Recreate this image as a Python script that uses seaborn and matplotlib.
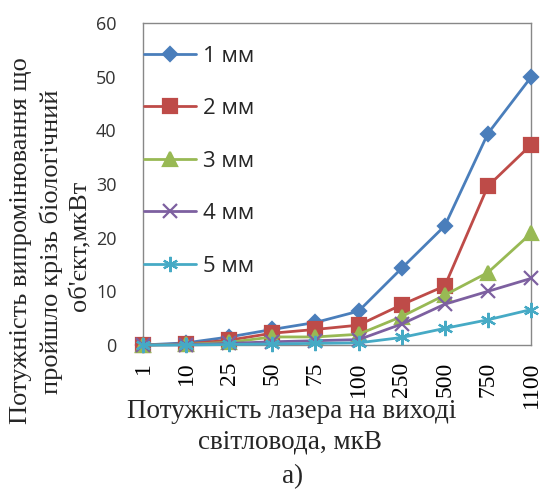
import matplotlib
matplotlib.use("Agg")
import matplotlib.pyplot as plt
import seaborn as sns
import pandas as pd

x_labels = ['1', '10', '25', '50', '75', '100', '250', '500', '750', '1100']
mm1 = [0, 0.4, 1.5, 2.9, 4.2, 6.3, 14.3, 22.2, 39.4, 49.9]
mm2 = [0, 0.2, 0.9, 2.2, 2.9, 3.7, 7.5, 11.0, 29.6, 37.3]
mm3 = [0, 0.1, 0.5, 1.5, 1.5, 2.0, 5.3, 9.3, 13.5, 20.8]
mm4 = [0, 0.05, 0.3, 0.6, 0.8, 1.0, 3.9, 7.6, 10.0, 12.4]
mm5 = [0, 0.0, 0.1, 0.2, 0.3, 0.4, 1.4, 3.1, 4.7, 6.6]
series_names = ['1 мм', '2 мм', '3 мм', '4 мм', '5 мм']

sns.set_style('white')
plt.rcParams['font.family'] = ['Open Sans', 'DejaVu Sans']

colors = ['#4A7EBB', '#BE4B48', '#98B954', '#7D60A0', '#46AAC5']
markers = ['D', 's', '^', 'x', (6, 2, 0)]
msizes = [7.5, 10.5, 10, 10, 11]

fig = plt.figure(figsize=(5.42, 4.91), dpi=100)
ax = fig.add_axes([143 / 542, 1 - 345 / 491, 388 / 542, 322 / 491])

positions = list(range(len(x_labels)))
for name, vals, c, m, ms in zip(series_names, [mm1, mm2, mm3, mm4, mm5], colors, markers, msizes):
    df = pd.DataFrame({'pos': positions, 'val': vals})
    sns.lineplot(data=df, x='pos', y='val', ax=ax, color=c, marker=m, markersize=ms,
                 markeredgecolor=c, markerfacecolor=c, markeredgewidth=1.6,
                 linewidth=2.0, label=name, clip_on=False, zorder=3)

ax.set_xlim(0, 9)
ax.set_ylim(0, 60)
ax.set_yticks(range(0, 61, 10))
ax.set_xticks(positions)
ax.set_xticklabels(x_labels, rotation=90, family='Liberation Serif', fontsize=17)
ax.tick_params(axis='x', length=0, pad=12, colors='black')
ax.tick_params(axis='y', length=0, pad=19, labelsize=13, colors='#333333')
for lbl in ax.get_yticklabels():
    lbl.set_family('Open Sans')
ax.set_xlabel('')
ax.set_ylabel('')
for sp in ax.spines.values():
    sp.set_color('#888888')
    sp.set_linewidth(1.0)

leg = ax.legend(loc='upper left', bbox_to_anchor=(0.003, 0.93), frameon=False,
                borderpad=0, borderaxespad=0, handlelength=2.35, handletextpad=0.3,
                labelspacing=1.42, prop={'family': 'Open Sans', 'size': 16})

serif = 'Liberation Serif'
fs = 19.5
fig.text(292 / 542, 1 - 412 / 491, 'Потужність лазера на виході', family=serif, fontsize=fs,
         ha='center', va='center')
fig.text(290 / 542, 1 - 442 / 491, 'світловода, мкВ', family=serif, fontsize=fs,
         ha='center', va='center')
fig.text(293 / 542, 1 - 477 / 491, 'а)', family=serif, fontsize=fs,
         ha='center', va='center')

fig.text(21 / 542, 1 - 241 / 491, 'Потужність випромінювання що', family=serif, fontsize=19,
         ha='center', va='center', rotation=90)
fig.text(51 / 542, 1 - 242 / 491, 'пройшло крізь біологічний', family=serif, fontsize=19,
         ha='center', va='center', rotation=90)
fig.text(80 / 542, 1 - 246 / 491, "об'єкт,мкВт", family=serif, fontsize=19,
         ha='center', va='center', rotation=90)

fig.savefig('out.png', dpi=100)
